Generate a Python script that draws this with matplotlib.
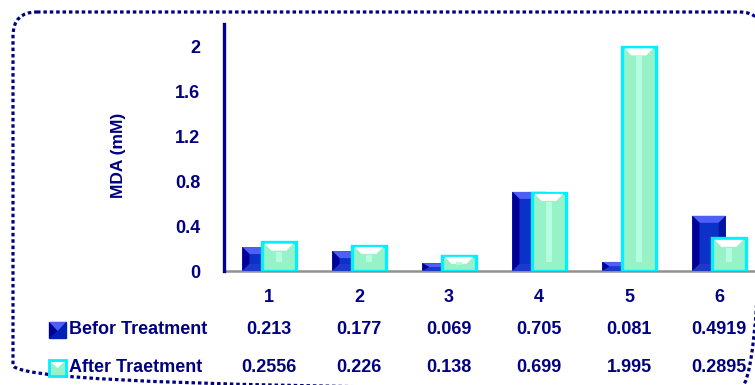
#!/usr/bin/env python3
'''
MDA (mM) before / after treatment, bevelled bars with a data table underneath
'''

import numpy as np
import matplotlib
matplotlib.use('Agg')
from matplotlib import pyplot as plt
from matplotlib.patches import FancyBboxPatch, Rectangle

CATEGORIES = ['1', '2', '3', '4', '5', '6']
BEFORE = [0.213, 0.177, 0.069, 0.705, 0.081, 0.4919]
AFTER = [0.2556, 0.226, 0.138, 0.699, 1.995, 0.2895]
BEFORE_TXT = ['0.213', '0.177', '0.069', '0.705', '0.081', '0.4919']
AFTER_TXT = ['0.2556', '0.226', '0.138', '0.699', '1.995', '0.2895']
Y_TICKS = [0, 0.4, 0.8, 1.2, 1.6, 2]
Y_TICK_LABELS = ['0', '0.4', '0.8', '1.2', '1.6', '2']

NAVY = '#000080'
FONT = 'Liberation Sans'
FS = 13
W, H = 755, 385

plt.rcParams['font.family'] = [FONT, 'DejaVu Sans']
plt.rcParams['font.weight'] = 'bold'


def bevel(ax, x0, x1, h, bx, by, colors, z):
    '''
    Draw the four bevel faces (top, left, right, bottom) of one bar
    '''
    by = min(by, h / 2)
    top, left, right, bottom = colors
    ax.fill([x0, x1, x1 - bx, x0 + bx], [h, h, h - by, h - by],
            color=top, lw=0, zorder=z)
    ax.fill([x0, x0, x0 + bx, x0 + bx], [0, h, h - by, by],
            color=left, lw=0, zorder=z)
    ax.fill([x1, x1, x1 - bx, x1 - bx], [0, h, h - by, by],
            color=right, lw=0, zorder=z)
    ax.fill([x0, x1, x1 - bx, x0 + bx], [0, 0, by, by],
            color=bottom, lw=0, zorder=z)


fig = plt.figure(figsize=(W / 100, H / 100), dpi=100)

# background with the dotted rounded frame, in pixel units
bg = fig.add_axes([0, 0, 1, 1])
bg.set_xlim(0, W)
bg.set_ylim(H, 0)
bg.axis('off')
frame = FancyBboxPatch((13, 12), 750, 377,
                       boxstyle='round,pad=0,rounding_size=24',
                       fill=False, edgecolor=NAVY, lw=2.3,
                       linestyle=(0, (1.1, 0.9)), capstyle='butt')
bg.add_patch(frame)

# plot area
ax_left, ax_bottom, ax_top = 224, 271, 24
ax_w = 540
ax = fig.add_axes([ax_left / W, 1 - ax_bottom / H,
                   ax_w / W, (ax_bottom - ax_top) / H])
ax.patch.set_alpha(0)
x = np.arange(len(CATEGORIES))
width = 0.37
off = 0.11
bx = 7 / 90
by = 7 / 112

ax.bar(x - off, BEFORE, width, color='#0a32c8', zorder=2)
for xi, v in zip(x - off, BEFORE):
    bevel(ax, xi - width / 2, xi + width / 2, v, bx, by,
          ('#4f5ff5', '#000096', '#0016a0', '#1c3ac8'), 3)

ax.bar(x + off, AFTER, width, color='#98f2c8', edgecolor='#00f0ff',
       linewidth=2.4, zorder=4)
for xi, v in zip(x + off, AFTER):
    x0, x1 = xi - width / 2 + 0.025, xi + width / 2 - 0.025
    b = min(by, v / 2)
    ax.fill([x0, x1, x1 - bx, x0 + bx],
            [v - 0.012, v - 0.012, v - b - 0.012, v - b - 0.012],
            color='white', lw=0, zorder=5)
    ax.fill([xi - 0.03, xi + 0.03, xi + 0.03, xi - 0.03],
            [b + 0.02, b + 0.02, v - b - 0.02, v - b - 0.02],
            color='#b4fde0', lw=0, zorder=5)

ax.set_xlim(-0.5, len(CATEGORIES) - 0.5)
ax.set_ylim(0, 2.2)
ax.set_yticks(Y_TICKS)
ax.set_yticklabels(Y_TICK_LABELS)
ax.tick_params(axis='y', length=0, pad=17, labelsize=FS, labelcolor=NAVY)
ax.set_xticks(x)
ax.set_xticklabels(CATEGORIES)
ax.tick_params(axis='x', length=0, pad=13, labelsize=FS, labelcolor=NAVY)
for s in ['top', 'right']:
    ax.spines[s].set_visible(False)
ax.spines['left'].set_color('#000099')
ax.spines['left'].set_linewidth(2.4)
ax.spines['left'].set_zorder(6)
ax.spines['bottom'].set_color('#909090')
ax.spines['bottom'].set_linewidth(1.8)

bg.text(118, 155, 'MDA (mM)', rotation=90, ha='center', va='center',
        fontsize=12.5, fontweight='bold', color=NAVY)

# data table under the axis
row_y = [330, 368]
for yy, vals in zip(row_y, [BEFORE_TXT, AFTER_TXT]):
    for xi, t in zip(x, vals):
        bg.text(ax_left + (xi + 0.5) * 90, yy, t, ha='center', va='center',
                fontsize=FS, fontweight='bold', color=NAVY)

bg.add_patch(Rectangle((49, 322), 17, 16, color='#0022b4'))
bg.fill([49, 66, 57.5], [322, 322, 331], color='#4f5ff5', lw=0)
bg.fill([49, 57.5, 49], [322, 331, 338], color='#000096', lw=0)
bg.add_patch(Rectangle((49, 360), 17, 16, color='#98f2c8',
                       ec='#00f0ff', lw=2))
bg.fill([51, 64, 57.5], [362, 362, 368], color='white', lw=0)
bg.text(69, 330, 'Befor Treatment', ha='left', va='center',
        fontsize=FS, fontweight='bold', color=NAVY)
bg.text(69, 368, 'After Traetment', ha='left', va='center',
        fontsize=FS, fontweight='bold', color=NAVY)

fig.savefig('out.png', dpi=100)
